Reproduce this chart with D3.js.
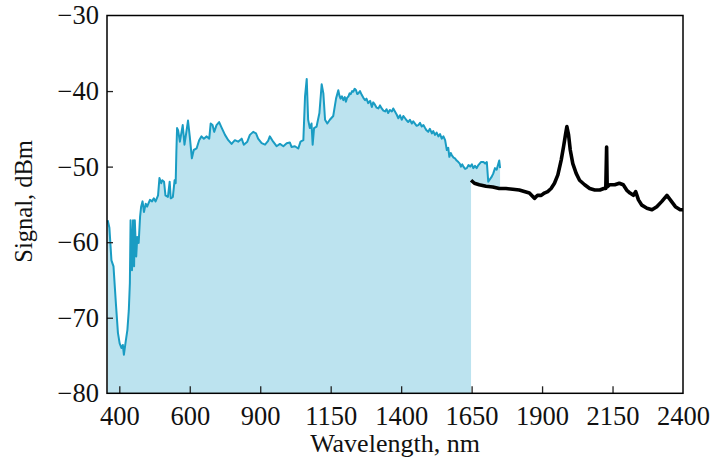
<!DOCTYPE html>
<html>
<head>
<meta charset="utf-8">
<script src="https://cdn.jsdelivr.net/npm/d3@7"></script>
<style>
  html, body { margin: 0; padding: 0; background: #fff; }
  svg { display: block; font-family: "Liberation Serif", "DejaVu Serif", serif; }
</style>
</head>
<body>
<div id="chart"></div>
<script>
// ── DATA ─────────────────────────────────────
// visible-range spectrum (cyan, filled)
const cyanNm = [366, 371, 377, 383, 390, 396, 401, 406, 410, 413, 418, 423, 427, 430, 432, 436, 439, 442, 444, 448, 451, 455,
  459, 462, 466, 470, 475, 479, 487, 493, 498, 503, 510, 514, 519, 522, 527, 531, 538, 543, 546, 552, 557, 560, 562, 564,
  567, 572, 580, 585, 591, 595, 600, 609, 617, 629, 640, 650, 660, 672, 683, 689, 697, 704, 714, 725, 735, 750, 764, 778,
  792, 806, 821, 830, 845, 856, 870, 882, 891, 905, 917, 928, 934, 946, 958, 970, 982, 994, 1005, 1011, 1023, 1035, 1043,
  1053, 1059, 1065, 1070, 1076, 1082, 1086, 1091, 1100, 1110, 1118, 1124, 1130, 1138, 1147, 1159, 1169, 1177, 1181, 1185,
  1190, 1195, 1200, 1204, 1208, 1213, 1217, 1221, 1226, 1230, 1235, 1240, 1244, 1248, 1254, 1260, 1266, 1272, 1277, 1283,
  1290, 1296, 1301, 1307, 1313, 1319, 1325, 1331, 1337, 1343, 1348, 1354, 1360, 1367, 1372, 1378, 1384, 1390, 1396, 1402,
  1408, 1414, 1420, 1425, 1431, 1438, 1443, 1449, 1455, 1461, 1467, 1473, 1479, 1485, 1490, 1496, 1502, 1509, 1514, 1520,
  1526, 1532, 1538, 1544, 1550, 1556, 1562, 1567, 1571, 1576, 1580, 1586, 1591, 1597, 1603, 1608, 1612, 1617, 1621, 1627,
  1633, 1639, 1645, 1651, 1656, 1662, 1668, 1674, 1683, 1692, 1698, 1704, 1709, 1722, 1727, 1733, 1739, 1745, 1748, 1751];
const cyanDbm = [-57.1, -58.1, -62.4, -63.2, -68.1, -72.0, -73.4, -74.0, -73.6, -74.9, -73.2, -71.6, -69.0, -65.4, -57.1,
  -63.7, -57.1, -63.2, -57.1, -61.9, -59.3, -60.1, -56.6, -55.3, -54.6, -56.0, -54.9, -55.3, -54.4, -54.6, -54.2, -54.6,
  -53.8, -51.5, -52.2, -51.8, -52.0, -53.8, -54.0, -52.0, -54.2, -54.0, -51.8, -52.2, -48.0, -44.9, -45.2, -46.7, -44.5,
  -47.1, -45.2, -43.9, -46.0, -48.9, -47.8, -47.6, -46.5, -46.0, -46.3, -46.0, -46.3, -44.3, -44.5, -45.4, -44.5, -44.1,
  -44.8, -45.8, -46.5, -47.0, -46.5, -46.7, -46.3, -47.1, -46.7, -45.8, -45.4, -45.6, -46.3, -46.9, -47.1, -46.6, -46.0,
  -46.7, -47.3, -47.0, -47.3, -46.9, -46.8, -47.4, -47.3, -47.6, -46.7, -46.5, -40.7, -38.4, -43.8, -44.9, -44.3, -47.1,
  -44.9, -44.7, -42.9, -39.1, -40.3, -43.8, -44.3, -43.8, -43.3, -41.0, -39.9, -40.6, -41.0,
  -40.7, -41.2, -40.8, -41.4, -40.9, -40.7, -40.3, -40.4, -40.0, -40.1, -39.7, -39.9, -40.4, -40.3, -40.0, -40.5, -40.9,
  -41.2, -41.0, -41.6, -41.3, -42.1, -41.5, -41.8, -42.2, -42.3, -41.9, -42.3, -42.6, -42.7, -42.4, -42.9, -42.5, -42.7,
  -42.3, -42.7, -43.1, -43.6, -43.2, -43.8, -43.3, -43.6, -43.9, -44.1, -43.8, -44.3, -44.0, -44.3, -44.6, -44.5, -44.2,
  -44.7, -44.5, -44.9, -45.2, -45.4, -45.0, -45.6, -45.3, -45.8, -45.5, -46.0, -45.7, -46.3, -46.0, -46.5, -47.8, -47.5,
  -48.7, -48.2, -48.5, -48.8, -48.9, -49.2, -49.4, -49.6, -50.0, -49.7, -50.0, -50.3, -50.2, -49.8, -50.0, -49.7, -50.2,
  -49.9, -50.2, -49.8, -49.4, -49.4, -49.6, -49.4, -52.0, -51.3, -50.9, -50.2, -50.4, -49.6, -49.2, -50.2];

// infrared spectrum (black)
const blackNm = [1648, 1660, 1677, 1701, 1725, 1748, 1772, 1796, 1819, 1837, 1855, 1873, 1884, 1897, 1908, 1920, 1932,
  1944, 1956, 1968, 1976, 1983, 1988, 1994, 2000, 2009, 2021, 2033, 2051, 2069, 2087, 2105, 2119, 2126, 2129, 2131, 2140,
  2158, 2174, 2188, 2200, 2212, 2224, 2232, 2242, 2254, 2272, 2290, 2307, 2325, 2343, 2355, 2373, 2390, 2400];
const blackDbm = [-51.8, -52.2, -52.4, -52.6, -52.7, -52.9, -52.9, -53.0, -53.1, -53.3, -53.5, -54.2, -53.8, -53.8, -53.5,
  -53.3, -52.9, -52.2, -51.1, -49.1, -47.4, -45.8, -44.7, -45.8, -47.8, -49.6, -50.9, -51.8, -52.4, -52.9, -53.1, -53.1,
  -52.9, -52.9, -47.4, -52.7, -52.4, -52.4, -52.2, -52.4, -53.1, -53.5, -53.8, -53.3, -54.4, -55.1, -55.5, -55.7, -55.3,
  -54.6, -53.8, -54.4, -55.3, -55.7, -55.7];

const xTicks = [400, 600, 900, 1150, 1400, 1650, 1900, 2150, 2400];
const xStart = 364;
const yTicks = [-80, -70, -60, -50, -40, -30];

// ── LAYOUT ───────────────────────────────────
const W = 711, H = 462;
const M = { t: 15.5, r: 28, b: 68.7, l: 107 };
const w = W - M.l - M.r;
const h = H - M.t - M.b;

const svg = d3.select('#chart').append('svg')
  .attr('width', W)
  .attr('height', H);

const g = svg.append('g')
  .attr('transform', `translate(${M.l},${M.t})`);

// ticks are evenly spaced although the labels are not
const off = 12.3;
const step = (w - off) / (xTicks.length - 1);
const x = d3.scaleLinear()
  .domain([xStart, ...xTicks])
  .range([0, ...xTicks.map((_, i) => off + i * step)]);

const y = d3.scaleLinear()
  .domain([-80, -30])
  .range([h, 0]);

const cyan = cyanNm.map((v, i) => ({ x: v, y: cyanDbm[i] }));
const black = blackNm.map((v, i) => ({ x: v, y: blackDbm[i] }));

// ── FILL ─────────────────────────────────────
g.append('path')
  .datum(cyan)
  .attr('fill', '#bce3ef')
  .attr('d', d3.area().x(d => x(d.x)).y0(h).y1(d => y(d.y)));

// mask below the infrared trace
g.append('path')
  .datum(black)
  .attr('fill', '#fff')
  .attr('d', d3.area().x(d => x(d.x)).y0(h).y1(d => y(d.y)));

// ── LINES ────────────────────────────────────
g.append('path')
  .datum(cyan)
  .attr('fill', 'none')
  .attr('stroke', '#1a9cc3')
  .attr('stroke-width', 2)
  .attr('stroke-linejoin', 'round')
  .attr('d', d3.line().x(d => x(d.x)).y(d => y(d.y)));

g.append('path')
  .datum(black)
  .attr('fill', 'none')
  .attr('stroke', '#000')
  .attr('stroke-width', 3.6)
  .attr('stroke-linejoin', 'round')
  .attr('d', d3.line().x(d => x(d.x)).y(d => y(d.y)));

// ── AXES ─────────────────────────────────────
const xAxis = g.append('g')
  .attr('transform', `translate(0,${h})`)
  .call(d3.axisBottom(x).tickValues(xTicks).tickSizeInner(-7).tickSizeOuter(0).tickPadding(13)
    .tickFormat(d3.format('d')));

xAxis.select('.domain').remove();
xAxis.selectAll('.tick').filter(d => d === 2400).select('line').remove();

const yAxis = g.append('g')
  .call(d3.axisLeft(y).tickValues(yTicks).tickSizeInner(-6).tickSizeOuter(0).tickPadding(8)
    .tickFormat(d => d3.format('d')(d).replace('-', '\u2212')));

yAxis.select('.domain').remove();
yAxis.selectAll('.tick').filter(d => d === -80 || d === -30).select('line').remove();

svg.selectAll('.tick text')
  .attr('font-family', '"Liberation Serif", serif')
  .attr('font-size', 26.5)
  .attr('fill', '#111');

svg.selectAll('.tick line')
  .attr('stroke', '#222')
  .attr('stroke-width', 1.3);

// frame
g.append('rect')
  .attr('width', w)
  .attr('height', h)
  .attr('fill', 'none')
  .attr('stroke', '#000')
  .attr('stroke-width', 1.5);

// ── LABELS ───────────────────────────────────
svg.append('text')
  .attr('x', M.l + w / 2)
  .attr('y', 452)
  .attr('text-anchor', 'middle')
  .attr('font-size', 26)
  .attr('fill', '#111')
  .text('Wavelength, nm');

svg.append('text')
  .attr('transform', `translate(32,${M.t + h / 2 - 3}) rotate(-90)`)
  .attr('text-anchor', 'middle')
  .attr('font-size', 24.5)
  .attr('fill', '#111')
  .text('Signal, dBm');
</script>
</body>
</html>
